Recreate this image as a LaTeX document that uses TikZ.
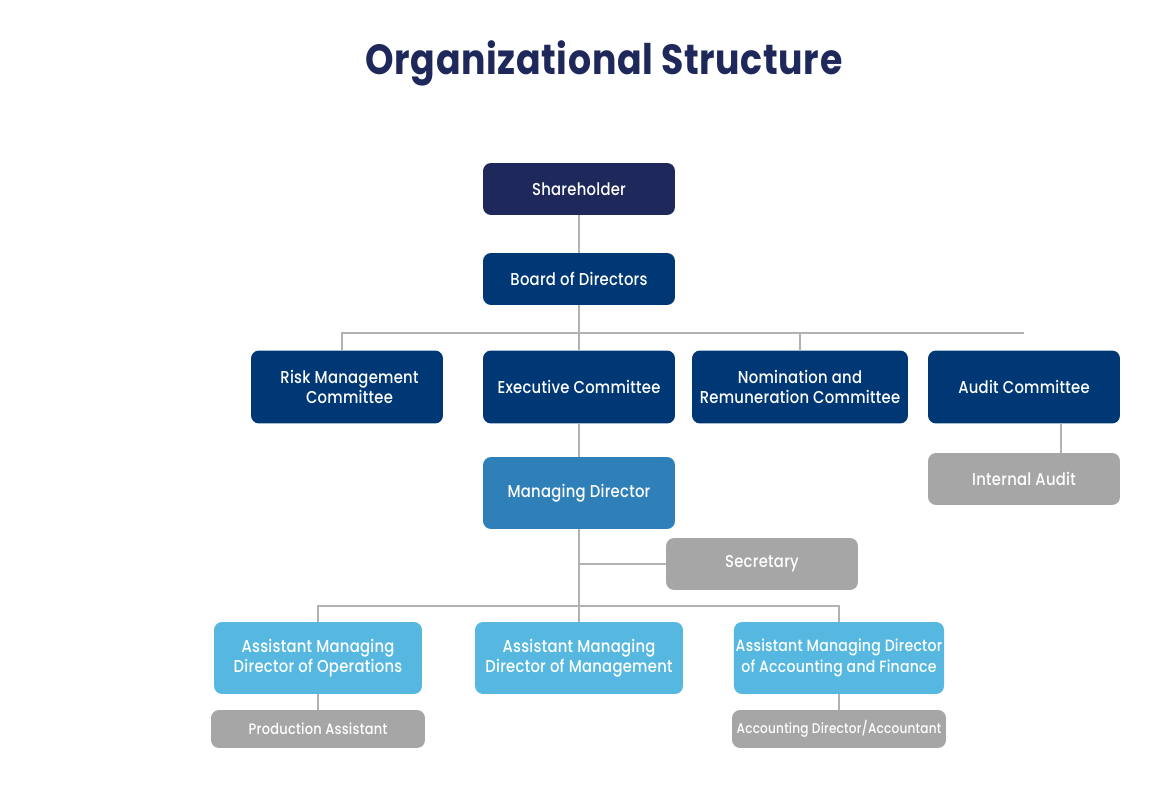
\documentclass[tikz,border=0pt]{standalone}
\usepackage{fontspec}
\setmainfont{Poppins}[FakeStretch=0.86,LetterSpace=1.5,UprightFont=* Medium,BoldFont=* Bold]
\usetikzlibrary{positioning}
\definecolor{navy}{RGB}{31,40,90}
\definecolor{board}{RGB}{0,56,118}
\definecolor{mdblue}{RGB}{47,128,184}
\definecolor{amdblue}{RGB}{86,184,224}
\definecolor{staff}{RGB}{166,166,166}
\definecolor{linec}{RGB}{178,178,178}

\begin{document}
\begin{tikzpicture}[x=0.02cm,y=-0.02cm,
  every node/.style={font=\fontsize{9.8}{11.5}\selectfont,text=white,align=center,inner sep=1pt},
  box/.style={rounded corners=0.16cm,minimum width=3.84cm,minimum height=1.04cm},
  top/.style={box,fill=navy},
  committee/.style={box,fill=board,minimum height=1.46cm},
  md/.style={box,fill=mdblue,minimum height=1.44cm},
  amd/.style={box,fill=amdblue,minimum width=4.16cm,minimum height=1.44cm},
  staffbox/.style={box,fill=staff},
  smallstaff/.style={box,fill=staff,minimum width=4.28cm,minimum height=0.76cm,font=\fontsize{8.6}{10}\selectfont},
  link/.style={draw=linec,line width=0.6pt}]
  \useasboundingbox (0,0) rectangle (1170,800);

  \node[font=\fontsize{24}{28}\selectfont\bfseries,text=navy] (title) at (604,63) {Organizational Structure};

  % top of the chart
  \node[top] (share) at (579,189) {Shareholder};
  \node[committee,minimum height=1.04cm] (board) at (579,279) {Board of Directors};

  % committees
  \node[committee] (risk) at (347,387) {\hspace*{0.1cm}Risk Management\\\hspace*{0.1cm}Committee};
  \node[committee] (exec) at (579,387) {Executive Committee};
  \node[committee,minimum width=4.32cm] (nom) at (800,387) {Nomination and\\Remuneration Committee};
  \node[committee] (audit) at (1024,387) {Audit Committee};
  \node[staffbox] (intaudit) at (1024,479) {Internal Audit};

  % management
  \node[md] (mdir) at (579,493) {Managing Director};
  \node[staffbox] (sec) at (762,564) {Secretary};
  \node[amd] (ops) at (318,658) {Assistant Managing\\Director of Operations};
  \node[amd] (mgmt) at (579,658) {Assistant Managing\\Director of Management};
  \node[amd,font=\fontsize{9.3}{11.5}\selectfont] (acc) at (839,658) {Assistant Managing Director\\of Accounting and Finance};
  \node[smallstaff] (prod) at (318,729) {Production Assistant};
  \node[smallstaff,font=\fontsize{8}{9}\selectfont] (accdir) at (839,729) {Accounting Director/Accountant};

  \coordinate (bus) at (579,333);
  \coordinate (mdbus) at (579,606);

  \draw[link] (share) -- (board);
  \draw[link] (board.south) -- (bus);
  \draw[link] ([xshift=-0.1cm]risk.north) |- (audit.north |- bus);
  \draw[link] (bus) -- (exec.north);
  \draw[link] (nom.north) -- (nom.north |- bus);
  \draw[link] ([xshift=0.74cm]audit.south) -- ([xshift=0.74cm]audit.south |- intaudit.north);
  \draw[link] (exec) -- (mdir);
  \draw[link] (mdir.south) -- (mdbus);
  \draw[link] (sec.west) -- (sec.west -| mdir.south);
  \draw[link] (ops.north) |- (mdbus) -| (acc.north);
  \draw[link] (mdbus) -- (mgmt.north);
  \draw[link] (ops) -- (prod);
  \draw[link] (acc) -- (accdir);
\end{tikzpicture}
\end{document}
